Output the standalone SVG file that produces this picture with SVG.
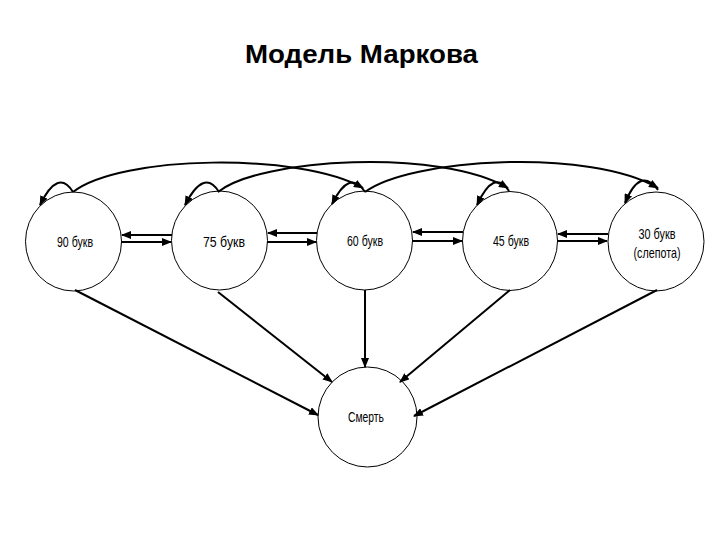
<svg xmlns="http://www.w3.org/2000/svg" width="720" height="540" viewBox="0 0 720 540">
<style>
.node{fill:#fff;stroke:#000;stroke-width:1}
.lbl{font-family:"Liberation Sans",Arial,sans-serif;font-size:14.5px;fill:#000;text-anchor:middle}
.title{font-family:"Liberation Sans",Arial,sans-serif;font-size:26px;font-weight:bold;fill:#000;text-anchor:middle}
.edge{fill:none;stroke:#000;stroke-width:2;marker-end:url(#ah)}
</style>
<defs>
<marker id="ah" markerUnits="userSpaceOnUse" markerWidth="10" markerHeight="8" refX="9" refY="4" orient="auto">
<path d="M0,0 L10,4 L0,8 z" fill="#000"/>
</marker>
</defs>
<rect width="720" height="540" fill="#fff"/>
<text class="title" x="361.5" y="63" textLength="233" lengthAdjust="spacingAndGlyphs">Модель Маркова</text>
<g id="n90"><ellipse class="node" cx="73.5" cy="241.5" rx="48" ry="49.5"/><text class="lbl" x="75" y="247" textLength="36" lengthAdjust="spacingAndGlyphs">90 букв</text></g>
<g id="n75"><ellipse class="node" cx="219.5" cy="240.5" rx="48" ry="49.5"/><text class="lbl" x="224" y="247" textLength="42" lengthAdjust="spacingAndGlyphs">75 букв</text></g>
<g id="n60"><ellipse class="node" cx="364.5" cy="240.5" rx="48" ry="49.5"/><text class="lbl" x="365" y="246" textLength="36" lengthAdjust="spacingAndGlyphs">60 букв</text></g>
<g id="n45"><ellipse class="node" cx="510" cy="241" rx="47.5" ry="49.5"/><text class="lbl" x="511" y="246" textLength="36" lengthAdjust="spacingAndGlyphs">45 букв</text></g>
<g id="n30"><ellipse class="node" cx="656" cy="241.5" rx="48" ry="49.5"/><text class="lbl" x="657" y="239" textLength="37" lengthAdjust="spacingAndGlyphs">30 букв</text><text class="lbl" x="657" y="258" textLength="47" lengthAdjust="spacingAndGlyphs">(слепота)</text></g>
<g id="death"><ellipse class="node" cx="367.5" cy="417" rx="49.5" ry="50"/><text class="lbl" x="366" y="422" textLength="36" lengthAdjust="spacingAndGlyphs">Смерть</text></g>
<g id="connectors">
<path class="edge" d="M73,192 Q58,168 40,205"/>
<path class="edge" d="M219,192 Q204,168 185,205"/>
<path class="edge" d="M365,192 Q350,168 332,204"/>
<path class="edge" d="M509,191 Q494,168 477,205"/>
<path class="edge" d="M658,190 Q640,166 625,203"/>
<path class="edge" d="M73,192 C120,155 300,152 363,188"/>
<path class="edge" d="M218,192 C260,158 440,148 508,188"/>
<path class="edge" d="M365,192 C410,158 590,148 658,188"/>
<path class="edge" d="M172,235 L122,235"/>
<path class="edge" d="M121,242 L171,242"/>
<path class="edge" d="M317,233 L268,233"/>
<path class="edge" d="M267,242 L316,242"/>
<path class="edge" d="M463,232 L413,232"/>
<path class="edge" d="M412,241 L462,241"/>
<path class="edge" d="M608,234 L558,234"/>
<path class="edge" d="M557,241 L607,241"/>
<path class="edge" d="M75,290 L318,415"/>
<path class="edge" d="M218,292 L332,382"/>
<path class="edge" d="M365,290 L365,367"/>
<path class="edge" d="M510,290 L400,382"/>
<path class="edge" d="M657,290 L414,416"/>
</g>
</svg>
